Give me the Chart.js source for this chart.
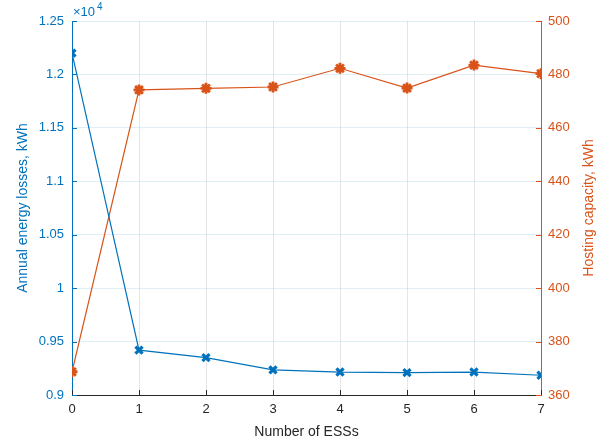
<!DOCTYPE html>
<html>
<head>
<meta charset="utf-8">
<script src="https://cdn.jsdelivr.net/npm/chart.js@4.4.1/dist/chart.umd.min.js"></script>
<style>
    html, body { margin: 0; padding: 0; background: #fff; }
    #wrap { width: 613px; height: 443px; }
</style>
</head>
<body>
<div id="wrap"><canvas id="essChart"></canvas></div>
<script>
// values
const essCounts = [0, 1, 2, 3, 4, 5, 6, 7];
const energyLosses = [12200, 9420, 9350, 9235, 9215, 9210, 9215, 9185]; // kWh
const hostingCapacity = [368.7, 474.2, 474.8, 475.3, 482.3, 474.9, 483.5, 480.3]; // kWh
const lossTicks = [9000, 9500, 10000, 10500, 11000, 11500, 12000, 12500];
const capacityTicks = [360, 380, 400, 420, 440, 460, 480, 500];

const BLUE = '#0072BD';
const ORANGE = '#D95319';
const DARK = '#262626';
const FONT = 'Liberation Sans, Arial, sans-serif';

// MATLAB style: tick marks inside the box, the x10^4 exponent and a
// right axis title that reads bottom-to-top
const matlabTicks = {
    id: 'matlabTicks',
    afterDraw(chart) {
        const ctx = chart.ctx;
        const area = chart.chartArea;
        const { x, y, y1 } = chart.scales;
        ctx.save();
        ctx.lineWidth = 1;
        ctx.strokeStyle = DARK;
        essCounts.forEach(v => {
            const px = Math.round(x.getPixelForValue(v)) + 0.5;
            ctx.beginPath();
            ctx.moveTo(px, area.bottom);
            ctx.lineTo(px, area.bottom - 5);
            ctx.stroke();
        });
        ctx.strokeStyle = BLUE;
        lossTicks.forEach(v => {
            const py = Math.round(y.getPixelForValue(v)) + 0.5;
            ctx.beginPath();
            ctx.moveTo(area.left, py);
            ctx.lineTo(area.left + 5, py);
            ctx.stroke();
        });
        ctx.strokeStyle = ORANGE;
        capacityTicks.forEach(v => {
            const py = Math.round(y1.getPixelForValue(v)) + 0.5;
            ctx.beginPath();
            ctx.moveTo(area.right, py);
            ctx.lineTo(area.right - 5, py);
            ctx.stroke();
        });

        // exponent
        ctx.fillStyle = BLUE;
        ctx.textBaseline = 'alphabetic';
        ctx.font = '13px ' + FONT;
        ctx.fillText('\u00d710', area.left + 1, area.top - 5);
        ctx.font = '10px ' + FONT;
        ctx.fillText('4', area.left + 25, area.top - 11);

        // right title
        ctx.fillStyle = ORANGE;
        ctx.font = '14px ' + FONT;
        ctx.textAlign = 'center';
        ctx.textBaseline = 'middle';
        ctx.translate(y1.right - 24, (area.top + area.bottom) / 2);
        ctx.rotate(-Math.PI / 2);
        ctx.fillText('Hosting capacity, kWh', 0, 0);
        ctx.restore();
    }
};

const ctx = document.getElementById('essChart').getContext('2d');
new Chart(ctx, {
    type: 'line',
    data: {
        datasets: [
            {
                label: 'Annual energy losses',
                data: essCounts.map((n, i) => ({ x: n, y: energyLosses[i] })),
                yAxisID: 'y',
                borderColor: BLUE,
                backgroundColor: BLUE,
                borderWidth: 1.2,
                pointStyle: 'crossRot',
                pointRadius: 5,
                pointBorderWidth: 3.2,
                tension: 0
            },
            {
                label: 'Hosting capacity',
                data: essCounts.map((n, i) => ({ x: n, y: hostingCapacity[i] })),
                yAxisID: 'y1',
                borderColor: ORANGE,
                backgroundColor: ORANGE,
                borderWidth: 1.2,
                pointStyle: 'star',
                pointRadius: 5.5,
                pointBorderWidth: 2.8,
                tension: 0
            }
        ]
    },
    options: {
        responsive: true,
        maintainAspectRatio: false,
        animation: false,
        layout: { padding: { top: 21, left: 0, right: 0, bottom: 0 } },
        plugins: {
            legend: { display: false },
            tooltip: { enabled: false }
        },
        scales: {
            x: {
                type: 'linear',
                min: 0,
                max: 7,
                afterFit: scale => { scale.height = 48; },
                ticks: {
                    stepSize: 1,
                    color: DARK,
                    font: { family: FONT, size: 13 },
                    padding: 7,
                    maxRotation: 0
                },
                grid: { color: 'rgba(38,38,38,0.12)', drawTicks: false },
                border: { color: DARK, width: 1 },
                title: {
                    display: true,
                    text: 'Number of ESSs',
                    color: DARK,
                    font: { family: FONT, size: 14 },
                    padding: { top: 0, bottom: 2.5 }
                }
            },
            y: {
                position: 'left',
                min: 9000,
                max: 12500,
                afterFit: scale => { scale.width = 72; },
                afterBuildTicks: scale => { scale.ticks = lossTicks.map(v => ({ value: v })); },
                ticks: {
                    color: BLUE,
                    font: { family: FONT, size: 13 },
                    padding: 8,
                    callback: v => String(parseFloat((v / 10000).toFixed(2)))
                },
                grid: { color: 'rgba(0,114,189,0.12)', drawTicks: false },
                border: { color: BLUE, width: 1 },
                title: {
                    display: true,
                    text: 'Annual energy losses, kWh',
                    color: BLUE,
                    font: { family: FONT, size: 14 },
                    padding: { top: 14.5, bottom: 0 }
                }
            },
            y1: {
                position: 'right',
                min: 360,
                max: 500,
                afterFit: scale => { scale.width = 72; },
                afterBuildTicks: scale => { scale.ticks = capacityTicks.map(v => ({ value: v })); },
                ticks: {
                    color: ORANGE,
                    font: { family: FONT, size: 13 },
                    padding: 7
                },
                grid: { drawOnChartArea: false, drawTicks: false },
                border: { color: ORANGE, width: 1 },
                title: { display: false }
            }
        }
    },
    plugins: [matlabTicks]
});
</script>
</body>
</html>
